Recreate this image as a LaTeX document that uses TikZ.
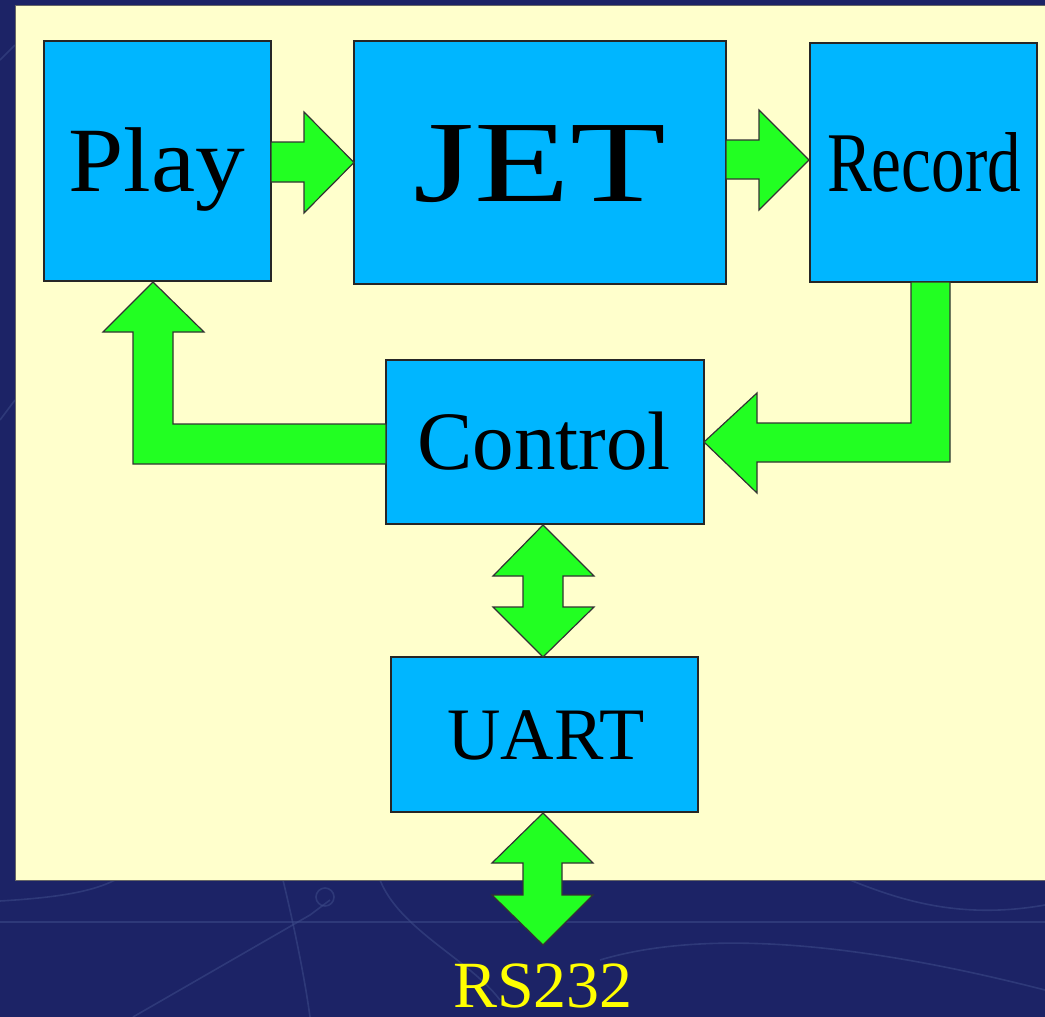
\documentclass[tikz,border=0pt]{standalone}
\usepackage{fontspec}
\setmainfont{Liberation Serif}
\usetikzlibrary{calc}
\definecolor{bgblue}{RGB}{28,35,102}
\definecolor{bgline}{RGB}{62,76,138}
\definecolor{panel}{RGB}{255,255,204}
\definecolor{boxblue}{RGB}{0,182,255}
\definecolor{agreen}{RGB}{34,255,34}
\definecolor{rsyellow}{RGB}{255,255,0}
\tikzset{
  blockbox/.style={draw=black!85, line width=1.1pt, fill=boxblue, rectangle, inner sep=0pt, outer sep=0pt},
  barrow/.style={draw=black!80, line width=1.2pt, fill=agreen, line join=miter},
  lbl/.style={anchor=base, inner sep=0pt, text=black},
  faint/.style={draw=bgline, line width=1.6pt, opacity=0.55}
}
\begin{document}
\begin{tikzpicture}[x=1pt,y=-1pt]
\useasboundingbox (0,0) rectangle (1045,1017);
\fill[bgblue] (0,0) rectangle (1045,1017);
% faint background pattern
\draw[faint] (0,922) -- (1045,922);
\draw[faint] (133,1017) -- (310,915) -- (330,900);
\draw[faint] (0,901) .. controls (50,898) and (90,893) .. (115,880);
\draw[faint] (325,897) circle (9);
\draw[faint] (283,880) .. controls (295,930) and (305,980) .. (310,1017);
\draw[faint] (380,880) .. controls (400,930) and (470,960) .. (500,1000);
\draw[faint] (600,960) .. controls (700,930) and (850,940) .. (1045,990);
\draw[faint] (850,880) .. controls (900,900) and (960,920) .. (1045,905);
\draw[faint] (0,60) -- (15,45);
\draw[faint] (0,420) -- (15,400);
% panel
\draw[fill=panel, draw=black!60, line width=1pt] (15,5) rectangle (1050,880);
% boxes
\node[blockbox, minimum width=227pt, minimum height=240pt] (play) at (157.5,161) {};
\node[blockbox, minimum width=372pt, minimum height=243pt] (jet) at (540,162.5) {};
\node[blockbox, minimum width=227pt, minimum height=239pt] (record) at (923.5,162.5) {};
\node[blockbox, minimum width=318pt, minimum height=164pt] (control) at (545,442) {};
\node[blockbox, minimum width=307pt, minimum height=155pt] (uart) at (544.5,734.5) {};
% labels
\node[lbl, font=\fontsize{92}{92}\selectfont] (playt) at (157,191) {\scalebox{1.08}[1]{Play}};
\node[lbl, font=\fontsize{116}{116}\selectfont] (jett) at (540,201) {\scalebox{1.35}[1]{JET}};
\node[lbl, font=\fontsize{85}{85}\selectfont] (recordt) at (924,191) {\scalebox{0.79}[1]{Record}};
\node[lbl, font=\fontsize{83}{83}\selectfont] (controlt) at (544,469) {Control};
\node[lbl, font=\fontsize{74}{74}\selectfont] (uartt) at (546,759) {UART};
\node[lbl, font=\fontsize{66}{66}\selectfont, text=rsyellow] (rs) at (543,1007) {RS232};
\coordinate (rsend) at (543,945);
% Play -> JET
\draw[barrow] ($(play.east)+(0,-19)$) -- ++(33,0) -- ++(0,-30)
  -- (jet.west) -- ($(play.east)+(33,52)$) -- ++(0,-31) -- ($(play.east)+(0,21)$) -- cycle;
% JET -> Record
\draw[barrow] ($(jet.east)+(0,-22.5)$) -- ++(33,0) -- ++(0,-30)
  -- ($(record.west)+(-1,-2.5)$) -- ($(jet.east)+(33,47.5)$) -- ++(0,-31) -- ($(jet.east)+(0,16.5)$) -- cycle;
% Record -> Control
\draw[barrow] ($(record.south)+(-12.5,0)$) -- ++(0,141) -- ($(control.east)+(53,-19)$)
  -- ++(0,-30) -- (control.east) -- ($(control.east)+(53,51)$) -- ++(0,-31)
  -- ($(record.south)+(26.5,180)$) -- ($(record.south)+(26.5,0)$) -- cycle;
% Control -> Play
\draw[barrow] ($(control.west)+(0,-18)$) -- ($(play.south)+(15.5,143)$) -- ($(play.south)+(15.5,51)$)
  -- ++(31,0) -- ($(play.south)+(-4.5,1)$) -- ($(play.south)+(-54.5,51)$) -- ++(30,0)
  -- ($(play.south)+(-24.5,183)$) -- ($(control.west)+(0,22)$) -- cycle;
% Control <-> UART
\draw[barrow] ($(control.south)+(-2,1)$) -- ++(51,51) -- ++(-31,0) -- ++(0,31) -- ++(31,0)
  -- ($(uart.north)+(-1.5,0)$) -- ++(-50,-50) -- ++(30,0) -- ++(0,-31) -- ++(-30,0) -- cycle;
% UART <-> RS232
\draw[barrow] ($(uart.south)+(-1.5,1)$) -- ++(50,50) -- ++(-31,0) -- ++(0,32) -- ++(31,0)
  -- (rsend) -- ++(-51,-50) -- ++(31,0) -- ++(0,-32) -- ++(-31,0) -- cycle;
\end{tikzpicture}
\end{document}
